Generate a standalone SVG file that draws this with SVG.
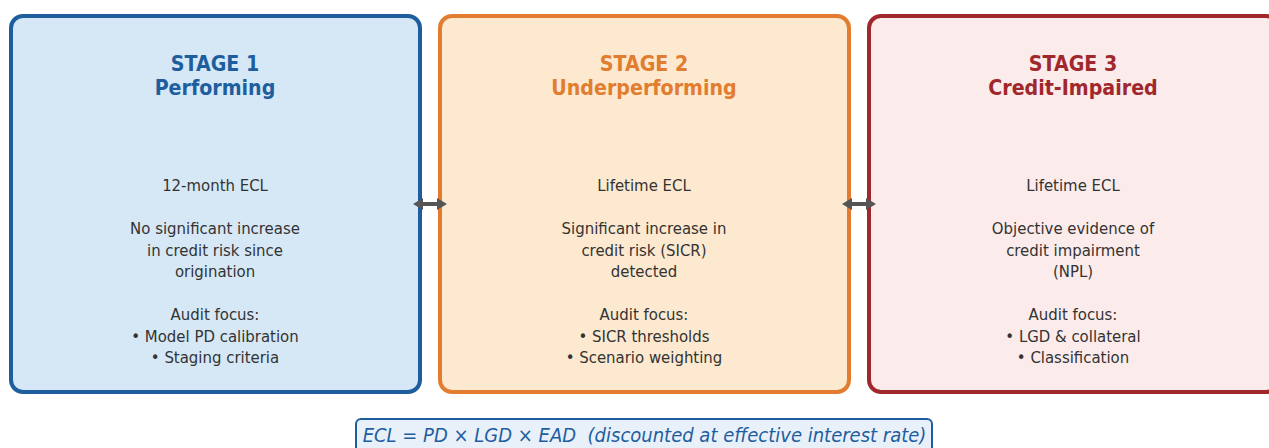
<svg xmlns="http://www.w3.org/2000/svg" width="1269" height="448" viewBox="0 0 1269 448">
  <defs>
    <style>
      .box { stroke-width: 4; }
      .title { font-family: "DejaVu Sans Condensed", "DejaVu Sans", sans-serif; font-weight: bold; font-size: 21.2px; text-anchor: middle; }
      .body { font-family: "DejaVu Sans Condensed", "DejaVu Sans", sans-serif; font-size: 16.6px; fill: #333333; text-anchor: middle; }
      .s1 .box { fill: #d6e8f6; stroke: #1f5e9e; }
      .s1 .title { fill: #1f5e9e; }
      .s2 .box { fill: #fce9cf; stroke: #e27c2f; }
      .s2 .title { fill: #e27c2f; }
      .s3 .box { fill: #fcebeb; stroke: #a0282c; }
      .s3 .title { fill: #a0282c; }
      .link { stroke: #555555; stroke-width: 4; fill: none; marker-start: url(#head); marker-end: url(#head); }
      .formula-box { fill: #e8f0fa; stroke: #1f5e9e; stroke-width: 2; }
      .formula { font-family: "DejaVu Sans Condensed", "DejaVu Sans", sans-serif; font-style: italic; font-size: 20px; fill: #1f5e9e; text-anchor: middle; white-space: pre; }
    </style>
    <marker id="head" viewBox="0 0 10 12" refX="2" refY="6" markerWidth="10" markerHeight="12" orient="auto-start-reverse" markerUnits="userSpaceOnUse">
      <path d="M0,0 L10,6 L0,12 z" fill="#555555"/>
    </marker>
  </defs>

  <!-- Stage 1 -->
  <g id="stage1" class="s1">
    <rect class="box" x="11" y="16" width="409" height="376" rx="12"/>
    <text class="title" x="215" y="71">STAGE 1</text>
    <text class="title" x="215" y="95">Performing</text>
    <text class="body" x="215" y="191">12-month ECL</text>
    <text class="body" x="215" y="234">No significant increase</text>
    <text class="body" x="215" y="255.5">in credit risk since</text>
    <text class="body" x="215" y="277">origination</text>
    <text class="body" x="215" y="320">Audit focus:</text>
    <text class="body" x="215" y="341.5">• Model PD calibration</text>
    <text class="body" x="215" y="363">• Staging criteria</text>
  </g>

  <!-- Stage 2 -->
  <g id="stage2" class="s2">
    <rect class="box" x="440" y="16" width="409" height="376" rx="12"/>
    <text class="title" x="644" y="71">STAGE 2</text>
    <text class="title" x="644" y="95">Underperforming</text>
    <text class="body" x="644" y="191">Lifetime ECL</text>
    <text class="body" x="644" y="234">Significant increase in</text>
    <text class="body" x="644" y="255.5">credit risk (SICR)</text>
    <text class="body" x="644" y="277">detected</text>
    <text class="body" x="644" y="320">Audit focus:</text>
    <text class="body" x="644" y="341.5">• SICR thresholds</text>
    <text class="body" x="644" y="363">• Scenario weighting</text>
  </g>

  <!-- Stage 3 -->
  <g id="stage3" class="s3">
    <rect class="box" x="869" y="16" width="409" height="376" rx="12"/>
    <text class="title" x="1073" y="71">STAGE 3</text>
    <text class="title" x="1073" y="95">Credit-Impaired</text>
    <text class="body" x="1073" y="191">Lifetime ECL</text>
    <text class="body" x="1073" y="234">Objective evidence of</text>
    <text class="body" x="1073" y="255.5">credit impairment</text>
    <text class="body" x="1073" y="277">(NPL)</text>
    <text class="body" x="1073" y="320">Audit focus:</text>
    <text class="body" x="1073" y="341.5">• LGD &amp; collateral</text>
    <text class="body" x="1073" y="363">• Classification</text>
  </g>

  <!-- Transitions between stages -->
  <g id="connectors">
    <line class="link" x1="421" y1="204" x2="439" y2="204"/>
    <line class="link" x1="850" y1="204" x2="868" y2="204"/>
  </g>

  <!-- Measurement formula -->
  <g id="formula">
    <rect class="formula-box" x="356" y="419" width="576" height="40" rx="5"/>
    <text class="formula" x="644.5" y="442" xml:space="preserve">ECL = PD × LGD × EAD  (discounted at effective interest rate)</text>
  </g>
</svg>
